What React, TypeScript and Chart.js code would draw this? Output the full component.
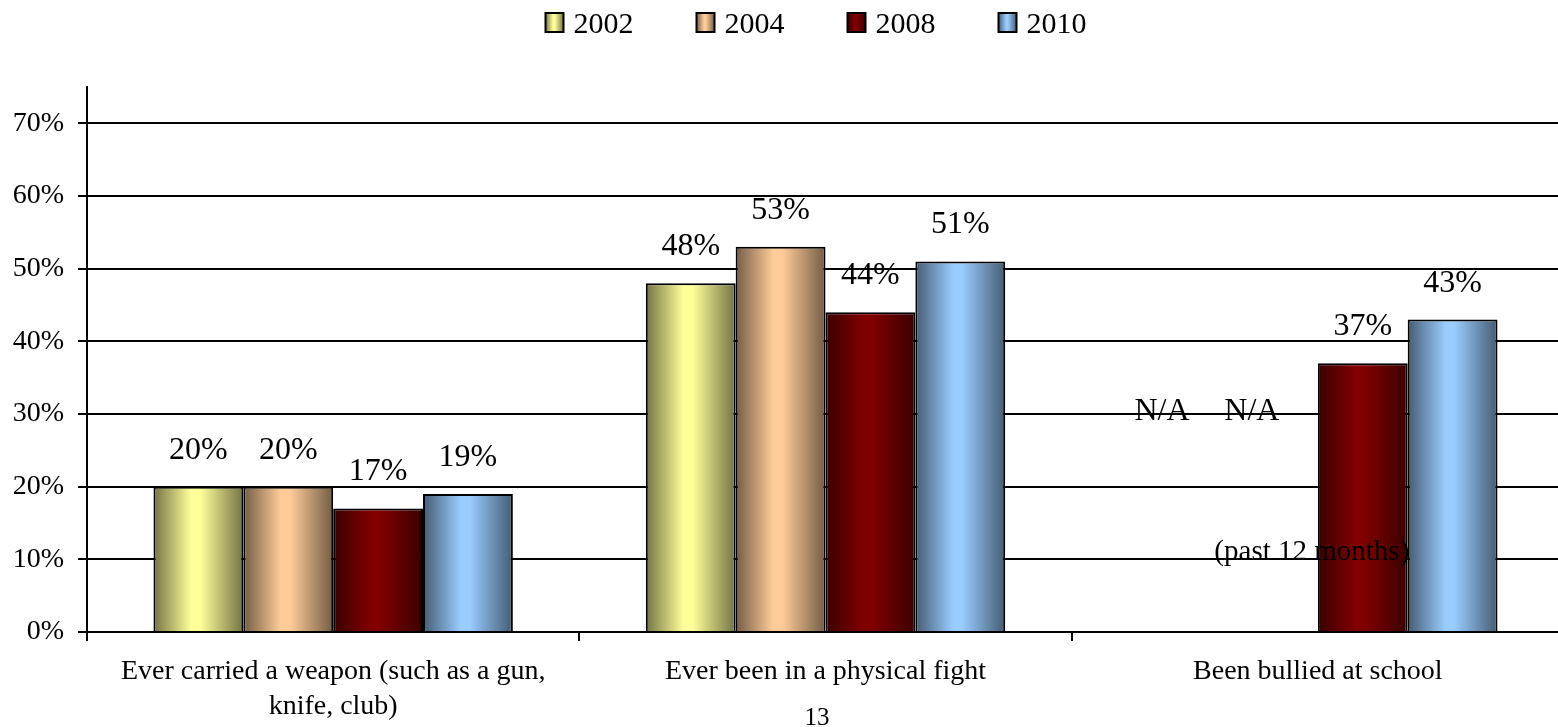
import React, { useEffect, useRef } from "react";
import { Chart, registerables } from "chart.js";

Chart.register(...registerables);

const categories: (string | string[])[] = [
  ["Ever carried a weapon (such as a gun,", "knife, club)"],
  "Ever been in a physical fight",
  "Been bullied at school",
];
const seriesLabels = ["2002", "2004", "2008", "2010"];
const values2002: (number | null)[] = [20, 48, null];
const values2004: (number | null)[] = [20, 53, null];
const values2008: (number | null)[] = [17, 44, 37];
const values2010: (number | null)[] = [19, 51, 43];
const yTickValues = [0, 10, 20, 30, 40, 50, 60, 70];
const seriesColors = ["#FFFF99", "#FFCC99", "#800000", "#99CCFF"];
const naText = "N/A";
const noteText = "(past 12 months)";
const noteCategoryIndex = 2;
const pageNumber = "13";

const FONT = '"Liberation Serif", "Times New Roman", serif';
const GROUP_PCT = 0.73;

function darken(hex: string, f: number) {
  const n = parseInt(hex.slice(1), 16);
  const r = Math.round(((n >> 16) & 255) * f);
  const g = Math.round(((n >> 8) & 255) * f);
  const b = Math.round((n & 255) * f);
  return `rgb(${r},${g},${b})`;
}

function makeGradient(ctx: CanvasRenderingContext2D, left: number, width: number, color: string) {
  const g = ctx.createLinearGradient(left, 0, left + width, 0);
  const dark = darken(color, 0.45);
  g.addColorStop(0, dark);
  g.addColorStop(0.42, color);
  g.addColorStop(0.52, color);
  g.addColorStop(1, dark);
  return g;
}

const widenPlugin = {
  id: "widenArea",
  afterLayout(chart: any) {
    // the original plot area runs a few pixels past the right edge of the picture
    const extra = 6;
    const xs = chart.scales.x;
    xs.right += extra;
    xs.width += extra;
    xs.configure();
    chart.chartArea.right += extra;
    chart.chartArea.width += extra;
  },
};

const gradientPlugin = {
  id: "barGradient",
  beforeDatasetsDraw(chart: any) {
    const ctx = chart.ctx;
    chart.data.datasets.forEach((ds: any, i: number) => {
      const meta = chart.getDatasetMeta(i);
      meta.data.forEach((el: any, j: number) => {
        if (ds.data[j] == null) return;
        const { x, width } = el.getProps(["x", "width"], true);
        el.options = { ...el.options, backgroundColor: makeGradient(ctx, x - width / 2, width, seriesColors[i]) };
      });
    });
  },
};

const labelPlugin = {
  id: "valueLabels",
  afterDatasetsDraw(chart: any) {
    const ctx = chart.ctx;
    const y = chart.scales.y;
    const x = chart.scales.x;
    ctx.save();
    ctx.fillStyle = "#000";
    ctx.font = `32px ${FONT}`;
    ctx.textAlign = "center";
    ctx.textBaseline = "alphabetic";
    const nSeries = chart.data.datasets.length;
    chart.data.datasets.forEach((ds: any, i: number) => {
      const meta = chart.getDatasetMeta(i);
      meta.data.forEach((el: any, j: number) => {
        const v = ds.data[j];
        if (v == null) {
          const cx = x.getPixelForValue(j);
          const groupW = (x.width / x.ticks.length) * GROUP_PCT;
          const barW = groupW / nSeries;
          const bx = cx - groupW / 2 + barW * (i + 0.5);
          ctx.fillText(naText, bx - 21, y.getPixelForValue(30) + 6);
        } else {
          ctx.fillText(`${v}%`, el.x, el.y - 28);
        }
      });
    });
    ctx.font = `29px ${FONT}`;
    ctx.fillText(noteText, x.getPixelForValue(noteCategoryIndex) - 6, y.getPixelForValue(10) + 1);
    ctx.restore();
  },
  afterDraw(chart: any) {
    const ctx = chart.ctx;
    ctx.save();
    // legend
    ctx.font = `30px ${FONT}`;
    const boxW = 18;
    const boxH = 19;
    const gapText = 10;
    const gapItem = 63;
    const widths = seriesLabels.map((l) => boxW + gapText + ctx.measureText(l).width);
    const total = widths.reduce((a, b) => a + b, 0) + gapItem * (widths.length - 1);
    let cx = chart.width / 2 + 37 - total / 2;
    ctx.textAlign = "left";
    ctx.textBaseline = "alphabetic";
    seriesLabels.forEach((l, i) => {
      ctx.fillStyle = makeGradient(ctx, cx, boxW, seriesColors[i]);
      ctx.fillRect(cx, 13, boxW, boxH);
      ctx.lineWidth = 2;
      ctx.strokeStyle = "#000";
      ctx.strokeRect(cx, 13, boxW, boxH);
      ctx.fillStyle = "#000";
      ctx.fillText(l, cx + boxW + gapText, 33);
      cx += widths[i] + gapItem;
    });
    // page number
    ctx.font = `25px ${FONT}`;
    ctx.textAlign = "center";
    ctx.textBaseline = "alphabetic";
    ctx.fillText(pageNumber, 817, 725);
    ctx.restore();
  },
};

export default function App() {
  const ref = useRef<HTMLCanvasElement | null>(null);
  useEffect(() => {
    if (!ref.current) return;
    const datasets = [values2002, values2004, values2008, values2010].map((d, i) => ({
      label: seriesLabels[i],
      data: d,
      backgroundColor: seriesColors[i],
      borderColor: "#000",
      borderWidth: 2,
      categoryPercentage: GROUP_PCT,
      barPercentage: 1,
    }));
    const chart = new Chart(ref.current, {
      type: "bar",
      data: { labels: categories, datasets },
      plugins: [widenPlugin, gradientPlugin, labelPlugin],
      options: {
        animation: false,
        responsive: false,
        layout: { padding: { top: 87, left: 0, right: 0, bottom: 0 } },
        plugins: { legend: { display: false }, tooltip: { enabled: false } },
        scales: {
          x: {
            grid: { drawOnChartArea: false, drawTicks: true, tickLength: 9, color: "#000", lineWidth: 2, offset: true },
            border: { display: true, color: "#000", width: 2 },
            ticks: { color: "#000", font: { family: FONT, size: 28, lineHeight: 1.25 }, padding: 13, maxRotation: 0, autoSkip: false },
            afterFit: (s: any) => { s.height = 95; },
          },
          y: {
            min: 0,
            max: 75,
            afterBuildTicks: (s: any) => { s.ticks = yTickValues.map((v) => ({ value: v })); },
            grid: { color: "#000", lineWidth: 2, tickLength: 9, drawTicks: true },
            border: { display: true, color: "#000", width: 2 },
            ticks: { color: "#000", font: { family: FONT, size: 28 }, padding: 14, callback: (v: any) => `${v}%` },
            afterFit: (s: any) => { s.width = 87; },
          },
        },
      },
    });
    return () => chart.destroy();
  }, []);
  return (
    <canvas ref={ref} width={1558} height={727} style={{ position: "absolute", left: 0, top: 0, width: 1558, height: 727 }} />
  );
}
